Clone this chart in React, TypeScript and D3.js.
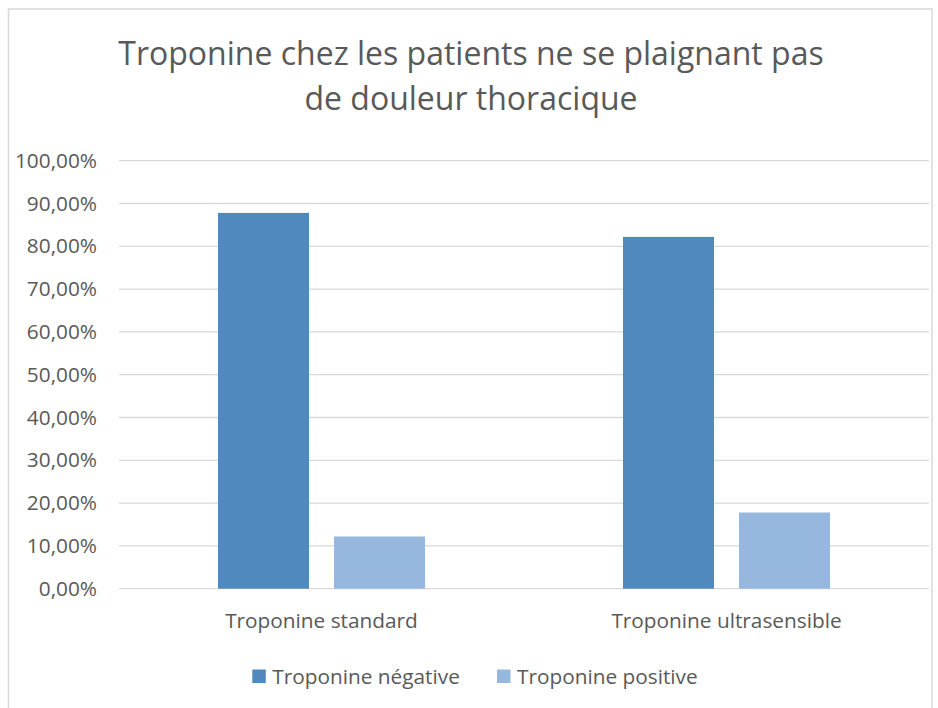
import React from "react";
import * as d3 from "d3";

const categories = ["Troponine standard", "Troponine ultrasensible"];
const seriesNames = ["Troponine négative", "Troponine positive"];
const negativeValues = [87.8, 82.2];
const positiveValues = [12.2, 17.8];
const yTickValues = [0, 10, 20, 30, 40, 50, 60, 70, 80, 90, 100];
const titleLines = ["Troponine chez les patients ne se plaignant pas", "de douleur thoracique"];
const colors = ["#4F89BD", "#96B8DF"];

const W = 938;
const H = 708;
const FONT = "'Open Sans', 'Noto Sans', sans-serif";
const TEXT = "#595959";

export default function App() {
  const x = d3.scaleBand<string>().domain(categories).range([119, 929]).padding(0);
  const band = x.bandwidth();
  const inner = d3
    .scaleBand<string>()
    .domain(seriesNames)
    .range([band * 0.2444, band * 0.7556])
    .paddingInner(25 / 116)
    .paddingOuter(0);
  const y = d3.scaleLinear().domain([0, 100]).range([588.7, 160.7]);
  const fmt = (v: number) => v.toFixed(2).replace(".", ",") + "%";
  const data = [negativeValues, positiveValues];

  return (
    <svg
      width={W}
      height={H}
      style={{ position: "absolute", left: 0, top: 0, background: "#fff" }}
      fontFamily={FONT}
    >
      <rect x={8.5} y={9} width={923.5} height={H + 10} fill="#fff" stroke="#D9D9D9" strokeWidth={1.5} />
      {titleLines.map((t, i) => (
        <text key={i} x={471} y={64.5 + i * 45.5} textAnchor="middle" fontSize={32} fill={TEXT}>
          {t}
        </text>
      ))}
      {yTickValues.map((v) => (
        <g key={v}>
          <line x1={119} x2={929} y1={y(v)} y2={y(v)} stroke="#D9D9D9" strokeWidth={1.3} />
          <text x={97} y={y(v) + 7} textAnchor="end" fontSize={20.8} fill={TEXT}>
            {fmt(v)}
          </text>
        </g>
      ))}
      {categories.map((c, ci) =>
        seriesNames.map((s, si) => {
          const v = data[si][ci];
          const bx = (x(c) as number) + (inner(s) as number);
          return (
            <rect
              key={c + s}
              x={bx}
              y={y(v)}
              width={inner.bandwidth()}
              height={y(0) - y(v)}
              fill={colors[si]}
            />
          );
        })
      )}
      {categories.map((c) => (
        <text
          key={c}
          x={(x(c) as number) + band / 2}
          y={628}
          textAnchor="middle"
          fontSize={20.8}
          fill={TEXT}
        >
          {c}
        </text>
      ))}
      {seriesNames.map((s, i) => {
        const lx = [252.3, 497][i];
        return (
          <g key={s}>
            <rect x={lx} y={669.5} width={13.5} height={13.5} fill={colors[i]} />
            <text x={lx + 20} y={684} fontSize={20.8} fill={TEXT}>
              {s}
            </text>
          </g>
        );
      })}
    </svg>
  );
}
